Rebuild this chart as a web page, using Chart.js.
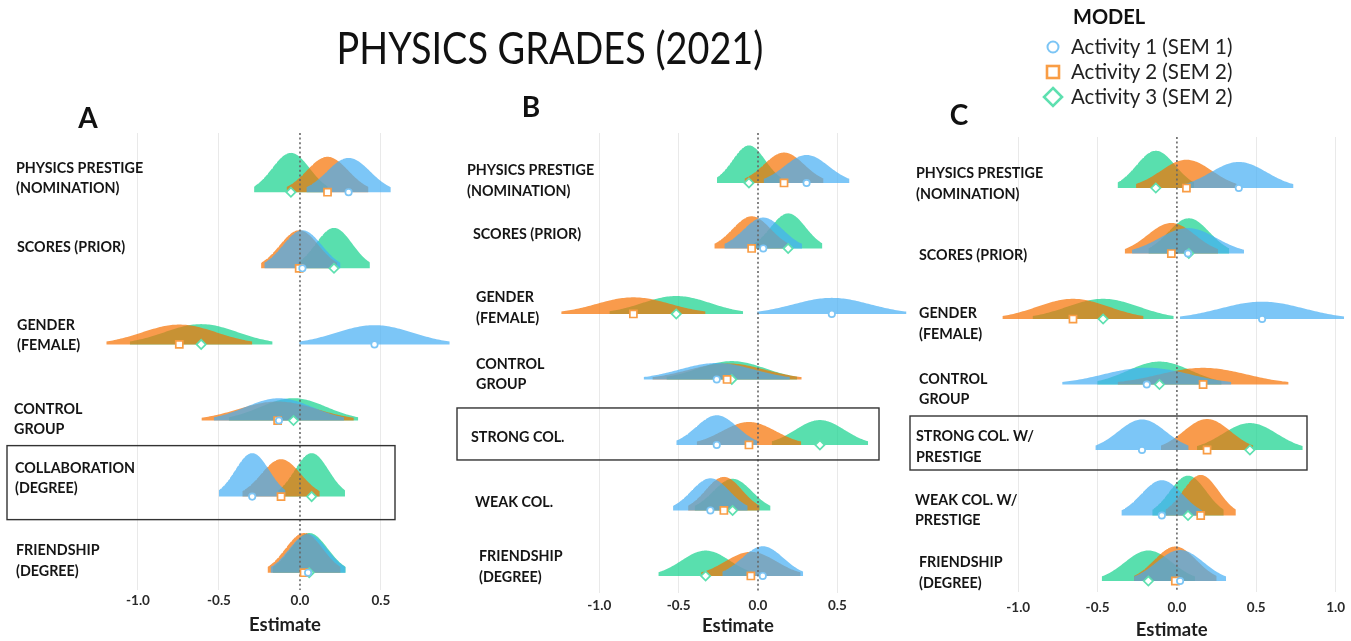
<!DOCTYPE html>
<html>
<head>
<meta charset="utf-8">
<title>Physics grades (2021)</title>
<script src="https://cdn.jsdelivr.net/npm/chart.js@4.4.1/dist/chart.umd.min.js"></script>
<style>
  html, body { margin: 0; padding: 0; background: #fff; }
  #wrap { position: relative; width: 1351px; height: 641px; overflow: hidden; font-family: Lato, "Open Sans", sans-serif; color: #111; }
  #wrap canvas { position: absolute; left: 0; top: 0; }
  .abs { position: absolute; white-space: nowrap; }
  #title { left: 250px; width: 600px; text-align: center; top: 25px; font-size: 44px; line-height: 44px;
           transform: scaleX(0.86); transform-origin: 300px 22px; }
  .letter { width: 40px; text-align: center; font-size: 28px; line-height: 28px; font-weight: bold; }
  #legTitle { left: 1073px; top: 6px; font-size: 20px; line-height: 20px; font-weight: bold; }
  .legItem { left: 1071px; font-size: 20.5px; line-height: 20px; color: #222; }
  .legMark { position: absolute; left: 1041px; width: 24px; height: 24px; }
</style>
</head>
<body>
<div id="wrap">
  <canvas id="panelA" width="1351" height="641"></canvas>
  <canvas id="panelB" width="1351" height="641"></canvas>
  <canvas id="panelC" width="1351" height="641"></canvas>

  <div id="title" class="abs">PHYSICS GRADES (2021)</div>
  <div class="abs letter" style="left:68px; top:103px;">A</div>
  <div class="abs letter" style="left:511px; top:92px;">B</div>
  <div class="abs letter" style="left:939px; top:100px;">C</div>

  <div id="legTitle" class="abs">MODEL</div>
  <svg class="legMark" style="top:35px" viewBox="0 0 24 24"><circle cx="12" cy="12" r="5.5" fill="#fff" stroke="#7cc5f5" stroke-width="2"/></svg>
  <svg class="legMark" style="top:60px" viewBox="0 0 24 24"><rect x="6" y="6" width="12" height="12" fill="#fff" stroke="#f99d45" stroke-width="2.6"/></svg>
  <svg class="legMark" style="top:85px" viewBox="0 0 24 24"><path d="M12 3 L21 12 L12 21 L3 12 Z" fill="#fff" stroke="#5ee0b0" stroke-width="2.6"/></svg>
  <div id="leg1" class="abs legItem" style="top:36px"></div>
  <div id="leg2" class="abs legItem" style="top:61px"></div>
  <div id="leg3" class="abs legItem" style="top:86px"></div>
</div>

<script>
// ---- model names ----
const ACTIVITIES = ['Activity 1 (SEM 1)', 'Activity 2 (SEM 2)', 'Activity 3 (SEM 2)'];

// ---- predictors shown in each panel (top to bottom) ----
const ROWS_A = [['PHYSICS PRESTIGE', '(NOMINATION)'], ['SCORES (PRIOR)'], ['GENDER', '(FEMALE)'],
                ['CONTROL', 'GROUP'], ['COLLABORATION', '(DEGREE)'], ['FRIENDSHIP', '(DEGREE)']];
const ROWS_B = [['PHYSICS PRESTIGE', '(NOMINATION)'], ['SCORES (PRIOR)'], ['GENDER', '(FEMALE)'],
                ['CONTROL', 'GROUP'], ['STRONG COL.'], ['WEAK COL.'], ['FRIENDSHIP', '(DEGREE)']];
const ROWS_C = [['PHYSICS PRESTIGE', '(NOMINATION)'], ['SCORES (PRIOR)'], ['GENDER', '(FEMALE)'],
                ['CONTROL', 'GROUP'], ['STRONG COL. W/', 'PRESTIGE'], ['WEAK COL. W/', 'PRESTIGE'], ['FRIENDSHIP', '(DEGREE)']];

// ---- panel A: estimates and standard errors ----
const EST_A1 = [0.300, 0.015, 0.460, -0.130, -0.295, 0.050];
const SE_A1  = [0.133, 0.120, 0.237, 0.205, 0.105, 0.118];
const EST_A2 = [0.170, -0.005, -0.745, -0.138, -0.117, 0.025];
const SE_A2  = [0.129, 0.120, 0.230, 0.240, 0.122, 0.115];
const EST_A3 = [-0.056, 0.210, -0.610, -0.040, 0.072, 0.057];
const SE_A3  = [0.116, 0.113, 0.225, 0.204, 0.105, 0.115];

// ---- panel B ----
const EST_B1 = [0.306, 0.033, 0.465, -0.260, -0.260, -0.300, 0.030];
const SE_B1  = [0.138, 0.125, 0.240, 0.235, 0.130, 0.120, 0.130];
const EST_B2 = [0.164, -0.040, -0.785, -0.195, -0.057, -0.215, -0.045];
const SE_B2  = [0.127, 0.120, 0.232, 0.240, 0.168, 0.115, 0.160];
const EST_B3 = [-0.057, 0.190, -0.515, -0.165, 0.390, -0.160, -0.330];
const SE_B3  = [0.103, 0.110, 0.215, 0.210, 0.155, 0.122, 0.152];

// ---- panel C ----
const EST_C1 = [0.390, 0.070, 0.537, -0.190, -0.220, -0.095, 0.020];
const SE_C1  = [0.176, 0.180, 0.264, 0.272, 0.150, 0.130, 0.148];
const EST_C2 = [0.060, -0.035, -0.655, 0.165, 0.190, 0.150, -0.010];
const SE_C2  = [0.162, 0.150, 0.227, 0.275, 0.148, 0.113, 0.133];
const EST_C3 = [-0.133, 0.075, -0.465, -0.110, 0.460, 0.070, -0.180];
const SE_C3  = [0.123, 0.130, 0.227, 0.200, 0.170, 0.115, 0.150];

// ---- axis ticks ----
const TICKS_AB = [-1.0, -0.5, 0.0, 0.5];
const TICKS_C  = [-1.0, -0.5, 0.0, 0.5, 1.0];

// ---- styling ----
const FILL_COLORS = ['rgba(69,174,244,0.7)', 'rgba(246,112,0,0.7)', 'rgba(19,209,139,0.7)'];
const MARK_COLORS = ['#7cc5f5', '#f99d45', '#5ee0b0'];
const MARK_STYLES = ['circle', 'rect', 'rectRot'];
const MARK_RADII  = [3.2, 5, 4.6];
const FONT = 'Lato, "Open Sans", sans-serif';
const CANVAS_W = 1351, CANVAS_H = 641;

ACTIVITIES.forEach((name, i) => { document.getElementById('leg' + (i + 1)).textContent = name; });

// Normal density over the 95% interval of an estimate, sitting on its row baseline.
function ridge(mu, se, row, peak) {
  const pts = [];
  const n = 90;
  for (let k = 0; k <= n; k++) {
    const z = -1.96 + 3.92 * k / n;
    pts.push({ x: mu + z * se, y: row - (peak / se) * Math.exp(-z * z / 2) });
  }
  return pts;
}

// Row labels and the highlight frame around one predictor.
const rowDecor = {
  id: 'rowDecor',
  afterDraw(chart, args, o) {
    const { ctx } = chart;
    const ys = chart.scales.y;
    ctx.save();
    ctx.font = 'bold 14.3px ' + FONT;
    ctx.fillStyle = '#151515';
    ctx.textAlign = 'left';
    ctx.textBaseline = 'middle';
    o.rows.forEach((lines, i) => {
      const cy = ys.getPixelForValue(i) + o.dy[i];
      lines.forEach((t, k) => ctx.fillText(t, o.x[i], cy + (k - (lines.length - 1) / 2) * o.lineGap));
    });
    if (o.box) {
      const b = o.box;
      const by = ys.getPixelForValue(b.row);
      ctx.strokeStyle = '#333';
      ctx.lineWidth = 1.4;
      ctx.strokeRect(b.x0, by + b.dTop, b.x1 - b.x0, b.dBottom - b.dTop);
    }
    ctx.restore();
  }
};

function buildPanel(id, rows, series, ticks, L) {
  const datasets = [];
  // estimate markers
  series.forEach((s, k) => {
    datasets.push({
      order: 0, showLine: false, clip: false,
      data: s.est.map((v, i) => ({ x: v, y: i })),
      pointStyle: MARK_STYLES[k], pointRadius: MARK_RADII[k], pointBorderWidth: 1.7,
      pointBackgroundColor: '#fff', pointBorderColor: MARK_COLORS[k]
    });
  });
  // reference line at zero
  datasets.push({
    order: 1, data: [{ x: 0, y: L.yMin }, { x: 0, y: L.yMax }],
    borderColor: '#666', borderWidth: 1.6, borderDash: [2, 2.6], pointRadius: 0, fill: false
  });
  // density ridges
  series.forEach((s, k) => {
    s.est.forEach((mu, i) => {
      datasets.push({
        order: 2 + k, clip: false,
        data: ridge(mu, s.se[i], i, L.peak),
        borderWidth: 0, borderColor: 'rgba(0,0,0,0)', pointRadius: 0, tension: 0,
        backgroundColor: FILL_COLORS[k], fill: { value: i }
      });
    });
  });

  return new Chart(document.getElementById(id), {
    type: 'line',
    data: { datasets },
    plugins: [rowDecor],
    options: {
      responsive: false, animation: false, events: [],
      layout: { padding: { left: L.left, right: CANVAS_W - L.right, top: L.top, bottom: 0 } },
      plugins: {
        legend: { display: false }, tooltip: { enabled: false },
        rowDecor: { rows, x: L.labelX, dy: L.labelDy, lineGap: 20.5, box: L.box }
      },
      scales: {
        x: {
          type: 'linear', min: L.xMin, max: L.xMax,
          afterBuildTicks: (s) => { s.ticks = ticks.map(v => ({ value: v })); },
          afterFit: (s) => { s.height = CANVAS_H - L.bottom; s.paddingLeft = 0; s.paddingRight = 0; },
          border: { display: false },
          grid: { drawTicks: false, lineWidth: 1,
                  color: (c) => (c.tick && c.tick.value === 0) ? 'rgba(0,0,0,0)' : '#e9e9e9' },
          ticks: { padding: L.tickPad, color: '#2a2a2a', font: { family: FONT, weight: 'bold', size: 13.5 },
                   callback: (v) => Number(v).toFixed(1) },
          title: { display: true, text: 'Estimate', color: '#1e1e1e',
                   font: { family: FONT, weight: 'bold', size: 18.5 }, padding: { top: 0, bottom: L.titlePad } }
        },
        y: { type: 'linear', display: false, reverse: true, min: L.yMin, max: L.yMax }
      }
    }
  });
}

buildPanel('panelA', ROWS_A,
  [{ est: EST_A1, se: SE_A1 }, { est: EST_A2, se: SE_A2 }, { est: EST_A3, se: SE_A3 }], TICKS_AB,
  { xMin: -1.25, xMax: 1.065, left: 97.5, right: 472.5, top: 133, bottom: 590,
    yMin: -0.778, yMax: 5.227, peak: 0.060, tickPad: 3, titlePad: 5,
    labelX: [16, 17, 17, 14, 15, 16], labelDy: [-14, -21, -9, -1, -18, -12],
    box: { row: 4, x0: 7, x1: 395, dTop: -51, dBottom: 23 } });

buildPanel('panelB', ROWS_B,
  [{ est: EST_B1, se: SE_B1 }, { est: EST_B2, se: SE_B2 }, { est: EST_B3, se: SE_B3 }], TICKS_AB,
  { xMin: -1.26, xMax: 1.008, left: 558, right: 918, top: 133, bottom: 593,
    yMin: -0.763, yMax: 6.26, peak: 0.059, tickPad: 5, titlePad: 4,
    labelX: [467, 473, 476, 476, 471, 475, 479], labelDy: [-2, -14, -6, -5, -8, -8, -9],
    box: { row: 4, x0: 457, x1: 879, dTop: -37, dBottom: 15 } });

buildPanel('panelC', ROWS_C,
  [{ est: EST_C1, se: SE_C1 }, { est: EST_C2, se: SE_C2 }, { est: EST_C3, se: SE_C3 }], TICKS_C,
  { xMin: -1.12, xMax: 1.055, left: 999.2, right: 1349.4, top: 137, bottom: 592,
    yMin: -0.779, yMax: 6.168, peak: 0.070, tickPad: 8, titlePad: 0,
    labelX: [916, 919, 919, 919, 916, 915, 919], labelDy: [-4, 2, 5, 5, -3, -5, -8],
    box: { row: 4, x0: 910, x1: 1307, dTop: -34, dBottom: 20 } });
</script>
</body>
</html>
